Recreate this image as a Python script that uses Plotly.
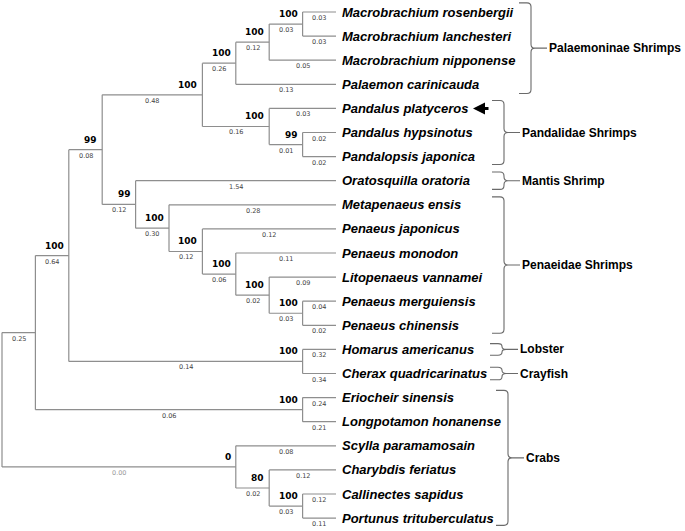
import plotly.graph_objects as go

# ---------------- data ----------------
tip_names = [
    "Macrobrachium rosenbergii", "Macrobrachium lanchesteri", "Macrobrachium nipponense",
    "Palaemon carinicauda", "Pandalus platyceros", "Pandalus hypsinotus", "Pandalopsis japonica",
    "Oratosquilla oratoria", "Metapenaeus ensis", "Penaeus japonicus", "Penaeus monodon",
    "Litopenaeus vannamei", "Penaeus merguiensis", "Penaeus chinensis", "Homarus americanus",
    "Cherax quadricarinatus", "Eriocheir sinensis", "Longpotamon honanense", "Scylla paramamosain",
    "Charybdis feriatus", "Callinectes sapidus", "Portunus trituberculatus",
]
tip_parent = ["I", "I", "H", "F", "G", "J", "J", "E", "K", "L", "M", "N", "O", "O",
              "P", "P", "Q", "Q", "R", "S", "T", "T"]
tip_length = [0.03, 0.03, 0.05, 0.13, 0.03, 0.02, 0.02, 1.54, 0.28, 0.12, 0.11, 0.09, 0.04, 0.02,
              0.32, 0.34, 0.24, 0.21, 0.08, 0.12, 0.12, 0.11]

node_ids = ["root", "A", "B", "C", "D", "F", "H", "I", "G", "J", "E", "K", "L", "M", "N", "O",
            "P", "Q", "R", "S", "T"]
node_parent = [None, "root", "A", "B", "C", "D", "F", "H", "D", "G", "C", "E", "K", "L", "M", "N",
               "B", "A", "root", "R", "S"]
node_length = [None, 0.25, 0.64, 0.08, 0.48, 0.26, 0.12, 0.03, 0.16, 0.01, 0.12, 0.30, 0.12, 0.06,
               0.02, 0.03, 0.14, 0.06, 0.00, 0.02, 0.03]
node_bootstrap = [None, None, 100, 99, 100, 100, 100, 100, 100, 99, 99, 100, 100, 100, 100, 100,
                  100, 100, 0, 80, 100]

group_names = ["Palaemoninae Shrimps", "Pandalidae Shrimps", "Mantis Shrimp", "Penaeidae Shrimps",
               "Lobster", "Crayfish", "Crabs"]
group_first = [0, 4, 7, 8, 14, 15, 16]
group_last = [3, 6, 7, 13, 14, 15, 21]
marked_tip = 4  # arrow

# ---------------- layout constants (pixels) ----------------
W, Hh = 685, 531
X0, X_PX = 2.0, 33.4      # pixel of level 0, pixels per level
Y0, Y_PX = 12.0, 24.1     # pixel of tip 0, pixels per tip
brace_vx = [531, 504, 504, 504, 502, 502, 508]
brace_pad = [0.38, 0.33, 0.36, 0.33, 0.24, 0.26, 0.3]
LINE_COLOR = "#8e8e8e"
BRACE_COLOR = "#6a6a6a"


def px2x(px):
    return (px - X0) / X_PX


def dxp(px):
    return px / X_PX


def dyp(px):
    return px / Y_PX


# ---------------- tree geometry ----------------
children = {n: [] for n in node_ids}
for n, p in zip(node_ids, node_parent):
    if p is not None:
        children[p].append(("node", n))
for i, p in enumerate(tip_parent):
    children[p].append(("tip", i))


def height(n):
    return 1 + max(0 if k == "tip" else height(c) for k, c in children[n])


def ypos(n):
    ys = [c if k == "tip" else ypos(c) for k, c in children[n]]
    return (min(ys) + max(ys)) / 2


HROOT = height("root")
nx = {n: HROOT - height(n) for n in node_ids}
ny = {n: ypos(n) for n in node_ids}
n_len = dict(zip(node_ids, node_length))
n_boot = dict(zip(node_ids, node_bootstrap))

lx, ly = [], []
annotations = []
small_font = dict(family="DejaVu Sans, Verdana", size=6.5, color="#444444")
boot_font = dict(family="DejaVu Sans, Verdana", size=9, color="#000000", weight="bold")

for n in node_ids:
    kids = children[n]
    cys = []
    for k, c in kids:
        if k == "tip":
            cx, cy, blen = HROOT, c, tip_length[c]
        else:
            cx, cy, blen = nx[c], ny[c], n_len[c]
        cys.append(cy)
        lx += [nx[n], cx, None]
        ly += [cy, cy, None]
        annotations.append(dict(
            x=(nx[n] + cx) / 2, y=cy, text=f"{blen:.2f}", showarrow=False,
            xanchor="center", yanchor="middle", yshift=-6,
            font=dict(small_font, color="#9a9a9a" if blen == 0 else "#444444")))
        if k == "node" and n_boot[c] is not None:
            annotations.append(dict(
                x=cx, y=cy, text=str(n_boot[c]), showarrow=False,
                xanchor="right", yanchor="middle", xshift=-3, yshift=10, font=boot_font))
    lx += [nx[n], nx[n], None]
    ly += [min(cys), max(cys), None]

fig = go.Figure()
fig.add_trace(go.Scatter(x=lx, y=ly, mode="lines", line=dict(color=LINE_COLOR, width=1.2),
                         hoverinfo="skip", showlegend=False))

for i, name in enumerate(tip_names):
    annotations.append(dict(
        x=HROOT, y=i, text=name, showarrow=False, xanchor="left", yanchor="middle", xshift=4,
        font=dict(family="Liberation Sans, Arial", size=13, color="#000000",
                  weight="bold", style="italic")))

# arrow pointing at the marked species
annotations.append(dict(
    x=px2x(473), y=marked_tip, ax=17, ay=0, text="", showarrow=True,
    arrowhead=2, arrowsize=0.8, arrowwidth=3, arrowcolor="#000000", standoff=0))

shapes = []
for g, name in enumerate(group_names):
    y0 = group_first[g] - brace_pad[g]
    y1 = group_last[g] + brace_pad[g]
    ym = (y0 + y1) / 2
    xv = px2x(brace_vx[g])
    xl = xv - dxp(12)
    xt = xv + dxp(4)
    xe = xv + dxp(16)
    rx, ry = dxp(4), dyp(4)
    ry = min(ry, (ym - y0) / 2)
    path = (f"M {xl},{y0} L {xv - rx},{y0} Q {xv},{y0} {xv},{y0 + ry} "
            f"L {xv},{ym - ry} Q {xv},{ym} {xt},{ym} Q {xv},{ym} {xv},{ym + ry} "
            f"L {xv},{y1 - ry} Q {xv},{y1} {xv - rx},{y1} L {xl},{y1} "
            f"M {xt},{ym} L {xe},{ym}")
    shapes.append(dict(type="path", xref="x", yref="y", path=path,
                       line=dict(color=BRACE_COLOR, width=1.1)))
    annotations.append(dict(
        x=xe, y=ym, text=name, showarrow=False, xanchor="left", yanchor="middle", xshift=0,
        font=dict(family="Liberation Sans, Arial", size=12, color="#000000", weight="bold")))

fig.update_layout(
    width=W, height=Hh, margin=dict(l=0, r=0, t=0, b=0),
    paper_bgcolor="white", plot_bgcolor="white",
    xaxis=dict(range=[px2x(0), px2x(W)], visible=False, fixedrange=True),
    yaxis=dict(range=[(Hh - Y0) / Y_PX, -Y0 / Y_PX], visible=False, fixedrange=True),
    annotations=annotations, shapes=shapes, showlegend=False,
)
fig.write_html("out.html", config={"displayModeBar": False},
               post_script="document.body.style.margin='0';document.body.style.overflow='hidden';")
